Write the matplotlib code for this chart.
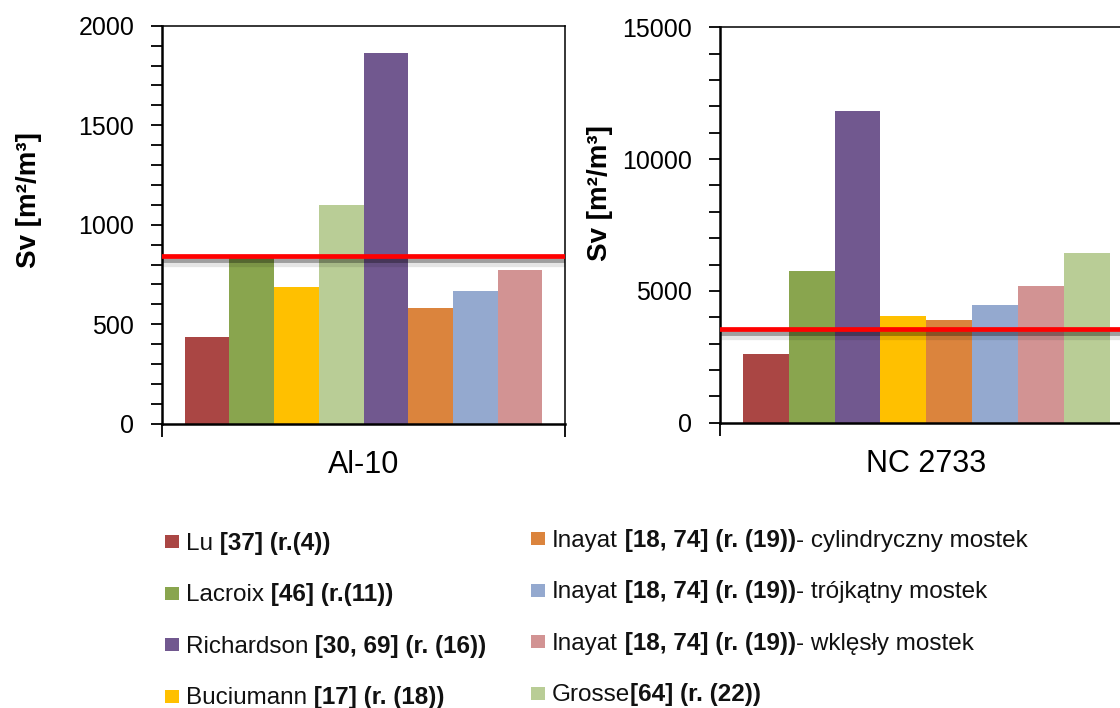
import matplotlib
matplotlib.use("Agg")
import matplotlib.pyplot as plt
import matplotlib.patheffects as pe
from matplotlib.patches import Rectangle
from matplotlib.ticker import MultipleLocator
from matplotlib.offsetbox import AnchoredOffsetbox, HPacker, VPacker, TextArea, DrawingArea

plt.rcParams['font.family'] = ['Liberation Sans', 'DejaVu Sans']

# ---- data ----
series = ['Lu', 'Lacroix', 'Richardson', 'Buciumann',
          'Inayat_cyl', 'Inayat_tri', 'Inayat_wkl', 'Grosse']
# legend text pieces: (text, bold)
legend_parts = {
    'Lu': [('Lu', False), (' [37] (r.(4))', True)],
    'Lacroix': [('Lacroix', False), (' [46] (r.(11))', True)],
    'Richardson': [('Richardson', False), (' [30, 69] (r. (16))', True)],
    'Buciumann': [('Buciumann', False), (' [17] (r. (18))', True)],
    'Inayat_cyl': [('Inayat', False), (' [18, 74] (r. (19))', True), ('- cylindryczny mostek', False)],
    'Inayat_tri': [('Inayat', False), (' [18, 74] (r. (19))', True), ('- trójkątny mostek', False)],
    'Inayat_wkl': [('Inayat', False), (' [18, 74] (r. (19))', True), ('- wklęsły mostek', False)],
    'Grosse': [('Grosse', False), ('[64] (r. (22))', True)],
}
colors = {
    'Lu': '#AA4644', 'Lacroix': '#89A54E', 'Richardson': '#71588F',
    'Buciumann': '#FFC000', 'Inayat_cyl': '#DB843D', 'Inayat_tri': '#94A9CF',
    'Inayat_wkl': '#D29393', 'Grosse': '#B9CD96',
}

al10_order = ['Lu', 'Lacroix', 'Buciumann', 'Grosse', 'Richardson',
              'Inayat_cyl', 'Inayat_tri', 'Inayat_wkl']
al10_values = [434, 840, 687, 1099, 1863, 581, 667, 772]
al10_ref = 843

nc_order = ['Lu', 'Lacroix', 'Richardson', 'Buciumann',
            'Inayat_cyl', 'Inayat_tri', 'Inayat_wkl', 'Grosse']
nc_values = [2606, 5755, 11825, 4048, 3896, 4465, 5186, 6438]
nc_ref = 3566

fig = plt.figure(figsize=(11.2, 7.08), dpi=100)
ax1 = fig.add_axes([162 / 1120, 1 - 423.7 / 708, 403 / 1120, 398 / 708])
ax2 = fig.add_axes([719.5 / 1120, 1 - 422.7 / 708, 413.5 / 1120, 395.4 / 708])

shadow = [pe.SimpleLineShadow(offset=(0, -2.5), shadow_color='black', alpha=0.3, linewidth=5),
          pe.SimpleLineShadow(offset=(0, -5), shadow_color='black', alpha=0.1, linewidth=6),
          pe.Normal()]


def panel(ax, order, values, ref, ymax, major, minor, name, lab_xy):
    xs = list(range(len(order)))
    ax.bar(xs, values, width=1.0, color=[colors[k] for k in order], linewidth=0, zorder=2)
    ax.axhline(ref, color='#FF0000', lw=3.4, zorder=3, path_effects=shadow)
    xlo, xhi = -1.01, 8.01
    ax.set_xlim(xlo, xhi)
    ax.set_ylim(0, ymax)
    ax.yaxis.set_major_locator(MultipleLocator(major))
    ax.yaxis.set_minor_locator(MultipleLocator(minor))
    ax.tick_params(axis='y', which='both', direction='out', length=8, width=1.3,
                   labelsize=18, pad=12)
    ax.set_xticks([3.5])
    ax.set_xticklabels([name], fontsize=22)
    ax.tick_params(axis='x', which='major', length=0, pad=19)
    ax.set_xticks([xlo, xhi], minor=True)
    ax.tick_params(axis='x', which='minor', length=9, width=1.3, direction='out')
    for s in ['left', 'bottom']:
        ax.spines[s].set_linewidth(1.8)
    for s in ['top', 'right']:
        ax.spines[s].set_linewidth(1.1)
    ax.set_ylabel('Sv [m²/m³]', fontsize=20, fontweight='bold')
    ax.yaxis.set_label_coords(*lab_xy)


panel(ax1, al10_order, al10_values, al10_ref, 2000, 500, 100, 'Al-10', (-0.298, 0.562))
panel(ax2, nc_order, nc_values, nc_ref, 15000, 5000, 1000, 'NC 2733', (-0.258, 0.582))


# legend built from offset boxes so that bold and regular text can be mixed
def legend_row(key):
    da = DrawingArea(10.1, 12, 0, 0)
    da.add_artist(Rectangle((0, 1.1), 10.1, 9.4, facecolor=colors[key], edgecolor='none'))
    texts = [TextArea(t, textprops=dict(fontsize=17.5, fontweight='bold' if b else 'normal',
                                        color='#111111'))
             for t, b in legend_parts[key]]
    return HPacker(children=[da, HPacker(children=texts, pad=0, sep=0, align='baseline')],
                   pad=0, sep=5, align='baseline')


def legend_column(keys, x_px, y_px):
    col = VPacker(children=[legend_row(k) for k in keys], pad=0, sep=20.5, align='left')
    box = AnchoredOffsetbox(loc='upper left', child=col, pad=0, borderpad=0, frameon=False,
                            bbox_to_anchor=(x_px / 1120, 1 - y_px / 708),
                            bbox_transform=fig.transFigure)
    fig.add_artist(box)


legend_column(series[:4], 165, 532)
legend_column(series[4:], 531, 529)

fig.savefig('out.png', dpi=100)
